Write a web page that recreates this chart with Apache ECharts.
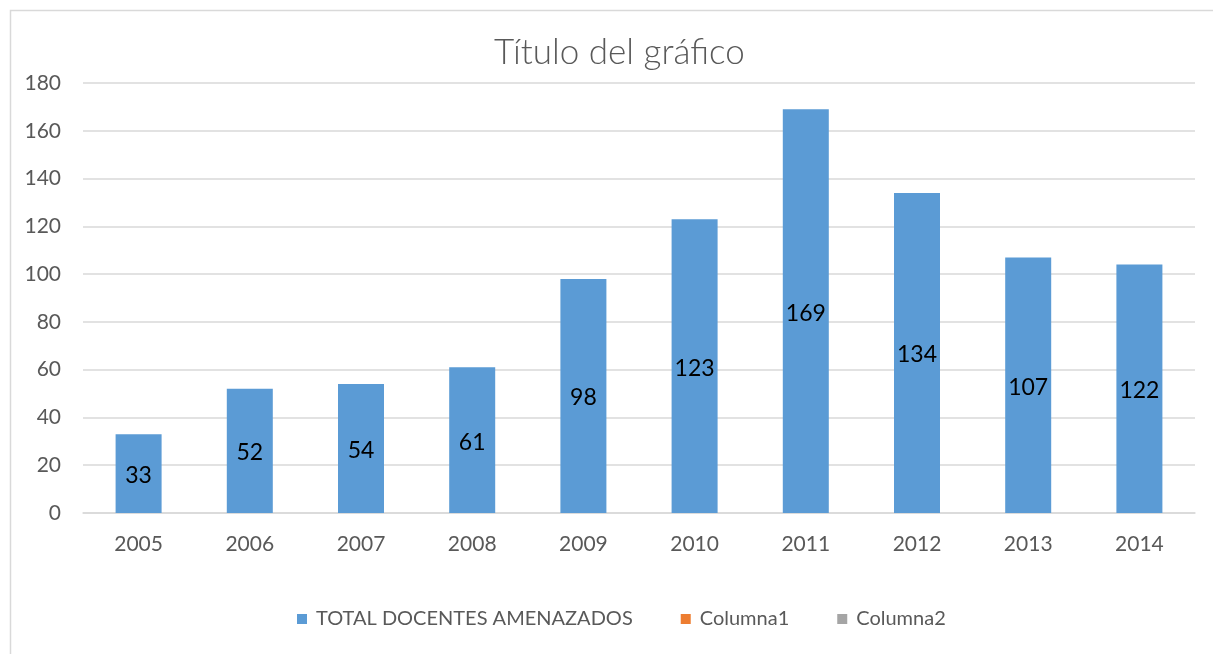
<!DOCTYPE html>
<html><head><meta charset="utf-8">
<script src="https://cdn.jsdelivr.net/npm/echarts@6/dist/echarts.min.js"></script>
<style>html,body{margin:0;padding:0;background:#fff}#c{width:1213px;height:654px}</style>
</head><body><div id="c"></div>
<script>
const categories = ['2005','2006','2007','2008','2009','2010','2011','2012','2013','2014'];
const totalDocentes = [33, 52, 54, 61, 98, 123, 169, 134, 107, 104];
const dataLabels = ['33','52','54','61','98','123','169','134','107','122'];
const columna1 = [];
const columna2 = [];
const seriesNames = ['TOTAL DOCENTES AMENAZADOS', 'Columna1', 'Columna2'];
const yTicks = { min: 0, max: 180, interval: 20 };

const font = 'Lato, "Open Sans", sans-serif';
const chart = echarts.init(document.getElementById('c'), null, { renderer: 'canvas' });
chart.setOption({
  animation: false,
  backgroundColor: '#fff',
  graphic: [{
    type: 'rect', left: 8, top: 8, z: -1,
    shape: { width: 1220, height: 660 },
    style: { fill: 'none', stroke: '#d9d9d9', lineWidth: 1.5 }
  }],
  title: {
    text: 'Título del gráfico', left: 489, top: 30,
    textStyle: { fontFamily: font, fontWeight: 300, fontSize: 35, color: '#595959' }
  },
  legend: {
    bottom: 20, left: 292, itemWidth: 10, itemHeight: 10, itemGap: 48,
    icon: 'rect',
    textStyle: { fontFamily: font, fontSize: 20, color: '#595959', padding: [0, 0, 0, 4] },
    data: seriesNames
  },
  grid: { left: 83, right: 18, top: 83, bottom: 141 },
  xAxis: {
    type: 'category', data: categories,
    axisLine: { lineStyle: { color: '#d9d9d9', width: 1.5 } },
    axisTick: { show: false },
    axisLabel: { fontFamily: font, fontSize: 21, color: '#595959', margin: 21 }
  },
  yAxis: {
    type: 'value', min: yTicks.min, max: yTicks.max, interval: yTicks.interval,
    axisLine: { show: false }, axisTick: { show: false },
    splitLine: { lineStyle: { color: '#d9d9d9', width: 1.5 } },
    axisLabel: { fontFamily: font, fontSize: 21, color: '#595959', margin: 22 }
  },
  series: [
    {
      name: seriesNames[0], type: 'bar', data: totalDocentes, barWidth: 46, barGap: '-100%',
      itemStyle: { color: '#5b9bd5' },
      label: {
        show: true, position: 'inside', offset: [0, 2], fontFamily: font, fontSize: 23, color: '#000',
        formatter: p => dataLabels[p.dataIndex]
      }
    },
    { name: seriesNames[1], type: 'bar', data: columna1, barWidth: 46, barGap: '-100%', itemStyle: { color: '#ed7d31' } },
    { name: seriesNames[2], type: 'bar', data: columna2, barWidth: 46, barGap: '-100%', itemStyle: { color: '#a5a5a5' } }
  ]
});
</script></body></html>
